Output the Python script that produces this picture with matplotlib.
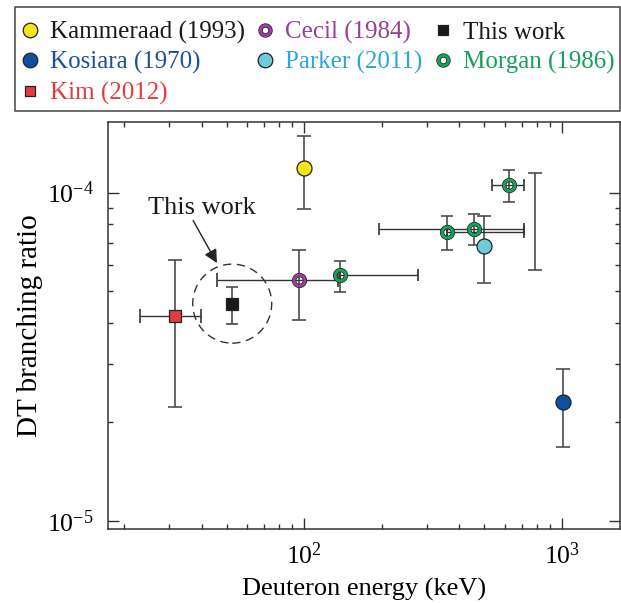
#!/usr/bin/env python3
"""DT branching ratio versus deuteron energy, compared with earlier measurements."""
import matplotlib

matplotlib.use("Agg")

import matplotlib.pyplot as plt
from matplotlib.lines import Line2D
from matplotlib.patches import Circle, Rectangle
from matplotlib import transforms
import numpy as np

plt.rcParams["font.family"] = ["Liberation Serif", "DejaVu Serif"]
plt.rcParams["mathtext.fontset"] = "custom"
plt.rcParams["mathtext.rm"] = "Liberation Serif"
plt.rcParams["mathtext.it"] = "Liberation Serif:italic"

# deuteron energy (keV), branching ratio with lower/upper bounds
kammeraad_e = [100.0]
kammeraad_br = [1.192e-4]
kammeraad_lo = [8.94e-5]
kammeraad_hi = [1.492e-4]

kosiara_e = [1010.0]
kosiara_br = [2.30e-5]
kosiara_lo = [1.68e-5]
kosiara_hi = [2.90e-5]

kim_e = [31.6]
kim_e_lo = [23.1]
kim_e_hi = [39.9]
kim_br = [4.21e-5]
kim_lo = [2.22e-5]
kim_hi = [6.22e-5]

cecil_e = [95.9]
cecil_e_lo = [46.1]
cecil_e_hi = [135.5]
cecil_br = [5.41e-5]
cecil_lo = [4.09e-5]
cecil_hi = [6.69e-5]

parker_e = [498.6]
parker_br = [6.90e-5]
parker_lo = [5.32e-5]
parker_hi = [8.51e-5]

morgan_e = [137.9, 359.3, 456.0, 624.8]
morgan_e_lo = [137.9, 359.3, 195.3, 535.5]
morgan_e_hi = [277.3, 712.2, 712.2, 714.3]
morgan_br = [5.60e-5, 7.61e-5, 7.75e-5, 1.056e-4]
morgan_lo = [4.99e-5, 6.69e-5, 6.93e-5, 9.39e-5]
morgan_hi = [6.21e-5, 8.49e-5, 8.61e-5, 1.173e-4]

this_e = [52.6]
this_br = [4.59e-5]
this_lo = [3.99e-5]
this_hi = [5.16e-5]

# bound quoted without a central value
bound_e = [785.8]
bound_lo = [5.81e-5]
bound_hi = [1.146e-4]

ERR = "#4d4d4d"
PURPLE = "#9a3e9c"
GREEN = "#16a05a"


def yerr(br, lo, hi):
    br = np.asarray(br)
    return [br - np.asarray(lo), np.asarray(hi) - br]


def draw_errors(ax, e, br, lo, hi, e_lo=None, e_hi=None, capsize=5.0):
    ax.errorbar(e, br, yerr=yerr(br, lo, hi), fmt="none", ecolor=ERR,
                elinewidth=1.2, capsize=capsize, capthick=1.2, zorder=2)
    if e_lo is not None:
        e_arr = np.asarray(e)
        xerr = [e_arr - np.asarray(e_lo), np.asarray(e_hi) - e_arr]
        ax.errorbar(e, br, xerr=xerr, fmt="none", ecolor="#333333",
                    elinewidth=1.0, capsize=capsize, capthick=1.2, zorder=2)


def ring(color, ms=7.8):
    # two stacked hollow markers: black outline under a coloured band
    outer = dict(marker="o", ms=ms, mfc="none", mec="#1a1a1a", mew=3.1,
                 linestyle="none")
    inner = dict(marker="o", ms=ms, mfc="none", mec=color, mew=2.2,
                 linestyle="none")
    return outer, inner


fig = plt.figure(figsize=(6.21, 6.03), dpi=100)
ax = fig.add_axes([107.7 / 621, (603 - 528.7) / 603, 512.6 / 621, 407 / 603])
ax.set_xscale("log")
ax.set_yscale("log")
ax.set_xlim(17.3, 1684)
ax.set_ylim(9.47e-6, 1.644e-4)

draw_errors(ax, kammeraad_e, kammeraad_br, kammeraad_lo, kammeraad_hi)
draw_errors(ax, kosiara_e, kosiara_br, kosiara_lo, kosiara_hi)
draw_errors(ax, kim_e, kim_br, kim_lo, kim_hi, kim_e_lo, kim_e_hi)
draw_errors(ax, cecil_e, cecil_br, cecil_lo, cecil_hi, cecil_e_lo, cecil_e_hi)
draw_errors(ax, parker_e, parker_br, parker_lo, parker_hi)
draw_errors(ax, morgan_e, morgan_br, morgan_lo, morgan_hi,
            morgan_e_lo, morgan_e_hi, capsize=4.5)
draw_errors(ax, this_e, this_br, this_lo, this_hi, capsize=4.5)

bound_mid = np.sqrt(np.asarray(bound_lo) * np.asarray(bound_hi))
draw_errors(ax, bound_e, bound_mid, bound_lo, bound_hi)

circ = dict(marker="o", ms=10.8, mec="#222222", mew=0.9, linestyle="none",
            zorder=4)
sq = dict(marker="s", ms=8.2, mec="#222222", mew=0.9, linestyle="none",
          zorder=4)

ax.plot(kammeraad_e, kammeraad_br, mfc="#f7e517", **circ)
ax.plot(kosiara_e, kosiara_br, mfc="#0c4fa3", **circ)
ax.plot(parker_e, parker_br, mfc="#6ecbdc", **circ)
ax.plot(kim_e, kim_br, mfc="#e33b40", **sq)
ax.plot(this_e, this_br, mfc="#1a1a1a", **sq)

for e, br, col in ((cecil_e, cecil_br, PURPLE), (morgan_e, morgan_br, GREEN)):
    outer, inner = ring(col)
    ax.plot(e, br, zorder=4, **outer)
    ax.plot(e, br, zorder=5, **inner)

# dashed circle around the new point, fixed size in inches
offset = transforms.ScaledTranslation(this_e[0], this_br[0], ax.transData)
ax.add_patch(Circle((0, 0), 0.395, transform=fig.dpi_scale_trans + offset,
                    fill=False, ec="#333333", lw=1.0, ls=(0, (6, 4)),
                    zorder=3))
ax.text(40.1, 9.0e-5, "This work", fontsize=19, ha="center", va="center",
        color="#1a1a1a")
ax.annotate("", xy=(45.9, 6.1e-5), xytext=(37.1, 8.22e-5),
            arrowprops=dict(arrowstyle="-|>", color="#222222", lw=1.0,
                            mutation_scale=20, shrinkA=0, shrinkB=0))

for side in ax.spines.values():
    side.set_color("#333333")
    side.set_linewidth(1.1)
ax.tick_params(which="both", direction="in", top=True, right=True,
               color="#333333", width=1.0, labelsize=18.5, pad=10)
ax.tick_params(which="major", length=8)
ax.tick_params(which="minor", length=3.6)
ax.tick_params(axis="y", pad=10)
ax.set_xlabel("Deuteron energy (keV)", fontsize=19, labelpad=6)
ax.set_ylabel("DT branching ratio", fontsize=21, labelpad=3)

# legend across the top of the figure, inside a fixed frame
def circ_h(fc):
    return Line2D([], [], marker="o", ms=10.5, mfc=fc, mec="#222222",
                  mew=0.9, linestyle="none")


def sq_h(fc):
    return Line2D([], [], marker="s", ms=7.8, mfc=fc, mec="#222222",
                  mew=0.9, linestyle="none")


def ring_h(col):
    outer, inner = ring(col, ms=7.2)
    return (Line2D([], [], **outer), Line2D([], [], **inner))


handles = [circ_h("#f7e517"), circ_h("#0c4fa3"), sq_h("#e33b40"),
           ring_h(PURPLE), circ_h("#6ecbdc"),
           sq_h("#1a1a1a"), ring_h(GREEN)]
labels = ["Kammeraad (1993)", "Kosiara (1970)", "Kim (2012)",
          "Cecil (1984)", "Parker (2011)",
          "This work", "Morgan (1986)"]
label_colors = ["#1a1a1a", "#1c4f9c", "#e33b40",
                PURPLE, "#2aa6df",
                "#1a1a1a", GREEN]

fig.patches.append(Rectangle((14.5 / 621, 1 - 111 / 603), 605.5 / 621,
                             104 / 603, transform=fig.transFigure,
                             fill=False, ec="#444444", lw=1.1))
fig.legend(handles, labels, ncol=3, loc="upper left",
           bbox_to_anchor=(14.5 / 621, 1 - 16 / 603, 605.5 / 621, 0),
           mode="expand", borderaxespad=0, fontsize=18,
           labelcolor=label_colors, frameon=False,
           handlelength=0.8, handletextpad=0.4, columnspacing=0.5,
           labelspacing=0.29, borderpad=0.2)

fig.savefig("out.png", dpi=100)
